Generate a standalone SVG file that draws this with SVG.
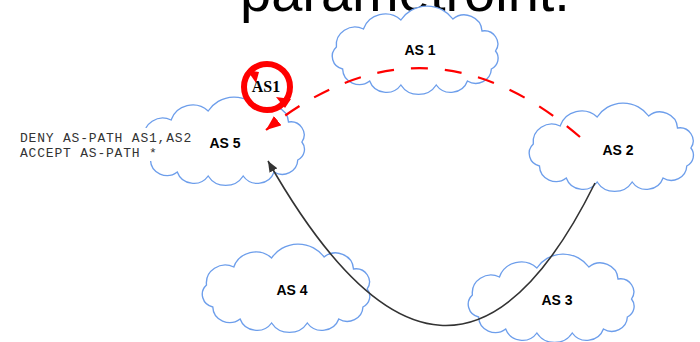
<svg xmlns="http://www.w3.org/2000/svg" width="700" height="342" viewBox="0 0 700 342">
  <style>
    .cloud { fill: #ffffff; stroke: #6d9eeb; stroke-width: 1.3; }
    .lbl { font-family: "Liberation Sans", Arial, sans-serif; font-weight: bold; font-size: 14px; fill: #000; text-anchor: middle; }
    .code { font-family: "Liberation Mono", "Courier New", monospace; font-size: 13px; letter-spacing: 0.8px; fill: #333; }
  </style>
  <defs>
    <path id="cloudShape" d="M 10,42 A 18,18 0 0 1 36,24 A 22,22 0 0 1 72,15 A 30,30 0 0 1 122,14 A 17,17 0 0 1 150,26 A 13,13 0 0 1 163,46 A 12,12 0 0 1 159,64 A 15,15 0 0 1 136,76 A 17,17 0 0 1 106,80 A 20,20 0 0 1 72,80 A 17,17 0 0 1 42,76 A 16,16 0 0 1 16,64 A 13,13 0 0 1 10,42 Z"/>
    <marker id="arrowBlack" markerUnits="userSpaceOnUse" markerWidth="12" markerHeight="10" refX="11" refY="4.5" orient="auto">
      <path d="M0,0 L11,4.5 L0,9 Z" fill="#333"/>
    </marker>
    <marker id="arrowRed" markerUnits="userSpaceOnUse" markerWidth="16" markerHeight="14" refX="15" refY="6" orient="auto">
      <path d="M0,0 L15,6 L0,12 Z" fill="#ff0000"/>
    </marker>
  </defs>

  <text x="240" y="11" font-family="Liberation Sans, Arial, sans-serif" font-size="56" fill="#000">parametroint.</text>

  <g id="as1"><use href="#cloudShape" class="cloud" transform="translate(326,5) scale(1.04,1)"/><text class="lbl" x="420" y="55">AS 1</text></g>
  <g id="as5"><use href="#cloudShape" class="cloud" transform="translate(134,96) scale(1.03,1)"/><text class="lbl" x="225" y="148">AS 5</text></g>
  <g id="as2"><use href="#cloudShape" class="cloud" transform="translate(523,102) scale(1.03,1)"/><text class="lbl" x="618" y="155">AS 2</text></g>
  <g id="as4"><use href="#cloudShape" class="cloud" transform="translate(196,243) scale(1.05,1)"/><text class="lbl" x="292" y="295">AS 4</text></g>
  <g id="as3"><use href="#cloudShape" class="cloud" transform="translate(462,253) scale(1.04,1)"/><text class="lbl" x="557" y="305">AS 3</text></g>

  <g id="policy">
    <rect x="16" y="128" width="180" height="33" fill="#ffffff"/>
    <text class="code" x="20" y="142">DENY AS-PATH AS1,AS2</text>
    <text class="code" x="20" y="157">ACCEPT AS-PATH *</text>
  </g>

  <g id="connectors">
    <path d="M 595,183 Q 448.5,478.5 268,161" fill="none" stroke="#333" stroke-width="1.6" marker-end="url(#arrowBlack)"/>
    <path d="M 580,137 Q 424.5,3 266,130" fill="none" stroke="#ff0000" stroke-width="2.2" stroke-dasharray="17 17" marker-end="url(#arrowRed)"/>
  </g>

  <g id="as1-badge">
    <circle cx="267" cy="87" r="23" fill="#ffffff" stroke="#ff0000" stroke-width="6"/>
    <path d="M247,70 L259,72 L256,83 Z" fill="#ff0000"/>
    <path d="M276,97 L291,99 L285,108 Z" fill="#ff0000"/>
    <text x="266" y="92" font-family="Liberation Serif, 'Times New Roman', serif" font-weight="bold" font-size="16" text-anchor="middle" fill="#000">AS1</text>
  </g>
</svg>
